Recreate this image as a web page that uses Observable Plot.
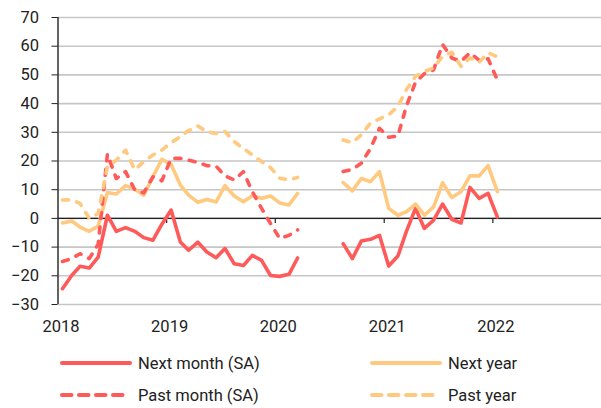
<!DOCTYPE html>
<html>
<head>
<meta charset="utf-8">
<script src="https://cdn.jsdelivr.net/npm/d3@7"></script>
<script src="https://cdn.jsdelivr.net/npm/@observablehq/plot@0.6"></script>
<style>
  html, body { margin: 0; padding: 0; background: #fff; }
  body { width: 601px; height: 408px; overflow: hidden; font-family: Roboto, "Liberation Sans", sans-serif; }
  #legend { position: relative; height: 68px; font-size: 16.5px; color: #222; }
  .item { position: absolute; display: flex; align-items: center; height: 20px; }
  .item svg { margin-right: 6px; }
</style>
</head>
<body>
<div id="chart"></div>
<div id="legend"></div>
<script>
// Monthly survey balances, Jan 2018 – Jan 2022 (null = no data)
const startMonth = "2018-01";
const nextMonth = [-24.5,-19.9,-16.7,-17.3,-13.5,1.1,-4.5,-3.2,-4.5,-6.7,-7.6,-2,2.9,-8.2,-11.1,-8.3,-11.7,-13.7,-10.5,-15.8,-16.4,-12.9,-14.6,-19.9,-20.2,-19.5,-13.8,
  null,null,null,null,
  -8.8,-14,-7.9,-7.3,-5.9,-16.6,-13.1,-4.7,3.5,-3.5,-0.6,5,-0.3,-1.6,10.8,7,8.7,0.5];
const nextYear = [-1.6,-0.9,-3,-4.5,-2.7,9,8.5,11.4,10.2,8.1,14.5,20.6,18.8,11.6,8.1,5.6,6.6,5.7,11.4,7.8,5.8,7.9,7,7.8,5.4,4.7,8.7,
  null,null,null,null,
  12.5,9.6,13.9,12.8,16.3,3.5,1.1,2.3,5,1.1,4,12.4,7.3,9.3,14.8,14.8,18.4,9.3];
const pastMonth = [-15,-14,-12.3,-14,-9,22.4,13.9,16.3,9.9,8.9,14.5,13.1,20.9,20.9,20.3,19.5,18.4,18.2,14.8,13.4,16.3,9.3,3.5,-1.8,-7,-5.9,-4,
  null,null,null,null,
  16.3,17.1,19.2,24.4,31.4,28.3,28.7,39,47.4,50.4,51.8,60.6,55.9,54.7,57.7,55.1,55.6,48.3];
const pastYear = [6.4,6.5,5.2,0,1.7,18,20.3,23.8,16.9,19.8,22.1,23.8,26.4,28.5,30.6,32.2,30.2,29.6,30.3,26.7,24.4,22.1,19.8,17.7,14,13.4,14.3,
  null,null,null,null,
  27.3,26.4,29.1,33.2,34.7,36.1,39,44.8,49.5,51.2,52.4,56.5,57.9,53,55.9,54.4,57.7,56.3];
const seriesNames = ["Next month (SA)", "Next year", "Past month (SA)", "Past year"];
const yearTicks = [2018, 2019, 2020, 2021, 2022];
const yTicks = [-30,-20,-10,0,10,20,30,40,50,60,70];

const RED = "#ff5a5a", ORANGE = "#ffc97f";
const styles = {
  "Next month (SA)": {stroke: RED, dash: null},
  "Next year": {stroke: ORANGE, dash: null},
  "Past month (SA)": {stroke: RED, dash: "6,8.5"},
  "Past year": {stroke: ORANGE, dash: "6,8.5"}
};
const seriesValues = [nextMonth, nextYear, pastMonth, pastYear];

const t0 = d3.utcParse("%Y-%m")(startMonth);
const monthDate = (i) => d3.utcDay.offset(d3.utcMonth.offset(t0, i), 15);
const yearDate = (y) => new Date(Date.UTC(y, 0, 1));

const lineMarks = seriesNames.map((name, k) => {
  const data = seriesValues[k].map((v, i) => ({date: monthDate(i), value: v == null ? NaN : v}));
  return Plot.line(data, {
    x: "date", y: "value",
    stroke: styles[name].stroke, strokeWidth: 3.6,
    strokeDasharray: styles[name].dash || undefined,
    strokeLinecap: "round", strokeLinejoin: "round"
  });
});

const chart = Plot.plot({
  width: 601,
  height: 340,
  marginLeft: 57.5,
  marginRight: 0,
  marginTop: 17,
  marginBottom: 36,
  style: {fontFamily: "Roboto, 'Liberation Sans', sans-serif", fontSize: "16.5px", color: "#222", background: "#fff"},
  x: {type: "utc", domain: [yearDate(2018), yearDate(2023)], label: null},
  y: {domain: [-30, 70], label: null},
  marks: [
    Plot.gridY(yTicks, {stroke: "#c6c6c6", strokeOpacity: 1, strokeWidth: 1.6}),
    Plot.ruleY([0], {stroke: "#222", strokeWidth: 1.4}),
    Plot.ruleX(yearTicks.slice(1).map(yearDate), {y1: 0, y2: 0, insetBottom: -5, stroke: "#222", strokeWidth: 1.2}),
    Plot.axisX(yearTicks.map(yearDate), {tickSize: 0, tickPadding: 16, tickFormat: d3.utcFormat("%Y"), dx: 3, fill: "#222", fontSize: 16.5, label: null}),
    Plot.axisY(yTicks, {tickSize: 6, tickPadding: 13, stroke: "#222", strokeOpacity: 1, fill: "#222", fontSize: 16.5, label: null}),
    Plot.ruleX([yearDate(2018)], {stroke: "#222", strokeWidth: 1.4}),
    ...lineMarks
  ]
});
document.getElementById("chart").appendChild(chart);

// Legend
const legend = d3.select("#legend");
const positions = [[60, 13], [370, 13], [60, 45], [370, 45]];
seriesNames.forEach((name, k) => {
  const item = legend.append("div").attr("class", "item")
    .style("left", positions[k][0] + "px").style("top", positions[k][1] + "px");
  const s = item.append("svg").attr("width", 72).attr("height", 10);
  s.append("line").attr("x1", 2).attr("x2", 70).attr("y1", 5).attr("y2", 5)
    .attr("stroke", styles[name].stroke).attr("stroke-width", 4)
    .attr("stroke-linecap", "round")
    .attr("stroke-dasharray", styles[name].dash ? "9.5,7.5" : null);
  item.append("span").text(name);
});
</script>
</body>
</html>
